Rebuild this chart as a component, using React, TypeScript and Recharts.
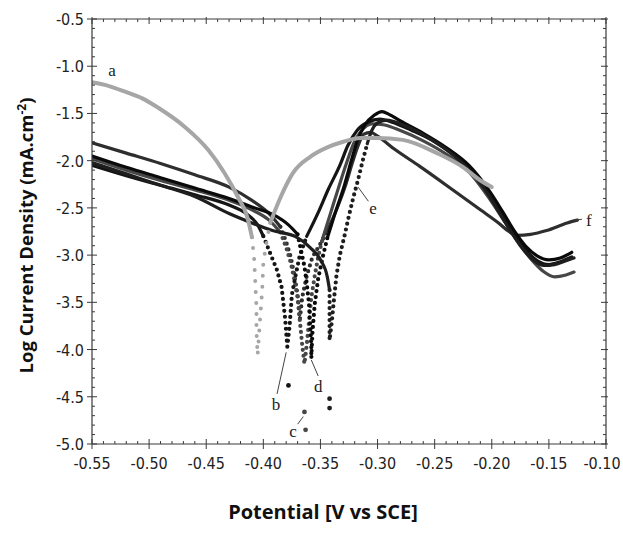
import React from 'react';
import { ComposedChart, Line, Scatter, XAxis, YAxis, ReferenceLine } from 'recharts';

type P = { v: number; L: number };
const pts = (arr: number[][]): P[] => arr.map(([v, L]) => ({ v, L }));

// ---- tick labels ----
const xTickLabels = [-0.55, -0.5, -0.45, -0.4, -0.35, -0.3, -0.25, -0.2, -0.15, -0.1];
const yTickLabels = [-5.0, -4.5, -4.0, -3.5, -3.0, -2.5, -2.0, -1.5, -1.0, -0.5];

// ---- curve a (grey) ----
const aCath = [[-0.55, -1.17], [-0.535, -1.21], [-0.521, -1.27], [-0.506, -1.34], [-0.492, -1.44], [-0.469, -1.64], [-0.448, -1.89], [-0.434, -2.13], [-0.422, -2.39], [-0.414, -2.6], [-0.41, -2.81]];
const aDots = [[-0.41, -2.81], [-0.408, -3.05], [-0.407, -3.3], [-0.406, -3.55], [-0.406, -3.8], [-0.405, -4.06], [-0.403, -3.7], [-0.401, -3.37], [-0.4, -3.08], [-0.397, -2.85], [-0.394, -2.66]];
const aAnod = [[-0.394, -2.66], [-0.385, -2.39], [-0.374, -2.13], [-0.359, -1.96], [-0.344, -1.86], [-0.33, -1.8], [-0.315, -1.76], [-0.3, -1.76], [-0.278, -1.78], [-0.248, -1.92], [-0.225, -2.07], [-0.21, -2.21], [-0.2, -2.28]];

// ---- curve b ----
const bCath = [[-0.55, -2.05], [-0.52, -2.16], [-0.49, -2.26], [-0.46, -2.36], [-0.43, -2.47], [-0.415, -2.56], [-0.405, -2.68], [-0.4, -2.8]];
const bDots = [[-0.4, -2.8], [-0.394, -2.98], [-0.388, -3.16], [-0.384, -3.34], [-0.381, -3.66], [-0.379, -3.97], [-0.377, -3.75], [-0.375, -3.42], [-0.372, -3.23], [-0.368, -3.0], [-0.362, -2.8]];
const bIso = [[-0.378, -4.38]];
const bAnod = [[-0.362, -2.8], [-0.352, -2.55], [-0.343, -2.3], [-0.333, -2.05], [-0.326, -1.84], [-0.318, -1.68], [-0.308, -1.59], [-0.298, -1.56], [-0.288, -1.59], [-0.27, -1.68], [-0.25, -1.8], [-0.23, -1.97], [-0.21, -2.22], [-0.195, -2.5], [-0.18, -2.78], [-0.17, -2.95], [-0.16, -3.06], [-0.15, -3.1], [-0.14, -3.07], [-0.13, -3.02]];

// ---- curve c ----
const cCath = [[-0.55, -1.98], [-0.52, -2.1], [-0.49, -2.21], [-0.46, -2.31], [-0.43, -2.42], [-0.41, -2.52], [-0.395, -2.63], [-0.385, -2.76]];
const cDots = [[-0.385, -2.76], [-0.38, -2.92], [-0.376, -3.08], [-0.373, -3.25], [-0.37, -3.45], [-0.368, -3.7], [-0.366, -3.95], [-0.364, -4.15], [-0.362, -3.95], [-0.36, -3.7], [-0.358, -3.45], [-0.355, -3.22], [-0.352, -3.02], [-0.348, -2.82]];
const cIso = [[-0.364, -4.66], [-0.363, -4.85]];
const cAnod = [[-0.348, -2.82], [-0.341, -2.55], [-0.334, -2.28], [-0.327, -2.02], [-0.321, -1.82], [-0.314, -1.68], [-0.305, -1.61], [-0.295, -1.62], [-0.28, -1.68], [-0.26, -1.79], [-0.24, -1.93], [-0.22, -2.12], [-0.205, -2.35], [-0.19, -2.62], [-0.177, -2.86], [-0.165, -3.05], [-0.155, -3.17], [-0.145, -3.23], [-0.135, -3.21], [-0.128, -3.18]];

// ---- curve d ----
const dCath = [[-0.55, -1.95], [-0.52, -2.07], [-0.49, -2.18], [-0.46, -2.29], [-0.43, -2.4], [-0.41, -2.49], [-0.39, -2.58], [-0.378, -2.68], [-0.37, -2.78]];
const dDots = [[-0.37, -2.78], [-0.367, -2.95], [-0.364, -3.12], [-0.362, -3.3], [-0.36, -3.52], [-0.359, -3.75], [-0.358, -3.95], [-0.358, -4.09], [-0.357, -3.82], [-0.355, -3.52], [-0.352, -3.25], [-0.348, -3.02], [-0.344, -2.82]];
const dAnod = [[-0.344, -2.82], [-0.337, -2.55], [-0.329, -2.26], [-0.323, -2.0], [-0.318, -1.8], [-0.311, -1.62], [-0.303, -1.52], [-0.296, -1.48], [-0.29, -1.51], [-0.28, -1.58], [-0.26, -1.71], [-0.24, -1.86], [-0.22, -2.05], [-0.205, -2.27], [-0.19, -2.55], [-0.18, -2.75], [-0.17, -2.91], [-0.16, -3.01], [-0.15, -3.05], [-0.14, -3.03], [-0.13, -2.97]];

// ---- curve e ----
const eCath = [[-0.55, -2.02], [-0.52, -2.14], [-0.49, -2.26], [-0.46, -2.38], [-0.43, -2.56], [-0.41, -2.66], [-0.392, -2.74], [-0.371, -2.81], [-0.359, -2.92], [-0.35, -3.05], [-0.344, -3.23], [-0.342, -3.37]];
const eDots = [[-0.342, -3.37], [-0.342, -3.52], [-0.342, -3.65], [-0.342, -3.78], [-0.342, -3.9], [-0.34, -3.7], [-0.338, -3.45], [-0.336, -3.22], [-0.333, -3.0], [-0.329, -2.8], [-0.325, -2.58], [-0.321, -2.38], [-0.317, -2.2], [-0.313, -2.0], [-0.309, -1.82]];
const eIso = [[-0.342, -4.52], [-0.342, -4.62]];
const eAnod = [[-0.309, -1.82], [-0.305, -1.68], [-0.3, -1.6], [-0.292, -1.57], [-0.278, -1.62], [-0.258, -1.74], [-0.238, -1.9], [-0.218, -2.12], [-0.203, -2.36], [-0.188, -2.66], [-0.175, -2.9], [-0.165, -3.04], [-0.155, -3.11], [-0.145, -3.1], [-0.135, -3.06], [-0.128, -3.03]];

// ---- curve f ----
const fCath = [[-0.55, -1.81], [-0.52, -1.92], [-0.49, -2.03], [-0.46, -2.15], [-0.43, -2.28], [-0.41, -2.42], [-0.395, -2.56], [-0.385, -2.7]];
const fDots = [[-0.385, -2.7], [-0.38, -2.86], [-0.376, -3.02], [-0.373, -3.2], [-0.37, -3.42], [-0.368, -3.68], [-0.366, -3.45], [-0.362, -3.22], [-0.357, -3.02], [-0.35, -2.88], [-0.344, -2.74]];
const fAnod = [[-0.344, -2.74], [-0.336, -2.52], [-0.328, -2.26], [-0.322, -2.02], [-0.317, -1.84], [-0.312, -1.72], [-0.306, -1.7], [-0.3, -1.74], [-0.285, -1.88], [-0.263, -2.06], [-0.234, -2.31], [-0.21, -2.52], [-0.193, -2.67], [-0.185, -2.75], [-0.178, -2.79], [-0.166, -2.78], [-0.152, -2.74], [-0.134, -2.66], [-0.125, -2.63]];

// ---- curve labels and leader lines ----
const curveLabels = [
  { v: -0.5325, L: -1.04, text: 'a' },
  { v: -0.389, L: -4.58, text: 'b' },
  { v: -0.374, L: -4.86, text: 'c' },
  { v: -0.352, L: -4.39, text: 'd' },
  { v: -0.304, L: -2.5, text: 'e' },
  { v: -0.115, L: -2.63, text: 'f' },
];
const leaders = [
  [[-0.388, -4.47], [-0.38, -4.03]],
  [[-0.37, -4.79], [-0.365, -4.71]],
  [[-0.352, -4.28], [-0.358, -4.11]],
  [[-0.308, -2.43], [-0.317, -2.28]],
  [[-0.121, -2.62], [-0.127, -2.63]],
];

// minor ticks derived from the labelled ticks
const xTicks: number[] = [];
for (let i = 0; i < xTickLabels.length; i++) {
  xTicks.push(xTickLabels[i]);
  if (i < xTickLabels.length - 1) for (let k = 1; k < 5; k++) xTicks.push(+(xTickLabels[i] + k * 0.01).toFixed(3));
}
const yTicks: number[] = [];
for (let i = 0; i < yTickLabels.length; i++) {
  yTicks.push(yTickLabels[i]);
  if (i < yTickLabels.length - 1) for (let k = 1; k < 5; k++) yTicks.push(+(yTickLabels[i] + k * 0.1).toFixed(3));
}
const isMajorX = (v: number) => Math.abs(Math.round(v * 100)) % 5 === 0;
const isMajorY = (v: number) => Math.abs(Math.round(v * 10)) % 5 === 0;

const TICK_FONT = "'Liberation Sans Narrow', 'Arial Narrow', 'DejaVu Sans Condensed', sans-serif";
const AX = '#3a3a3a';

const AxisTick = (props: any) => {
  const { x, y, payload, side } = props;
  const v = payload.value as number;
  const horiz = side === 'bottom' || side === 'top';
  const major = horiz ? isMajorX(v) : isMajorY(v);
  const inL = major ? 5 : 3;
  const outL = major ? 5 : 0;
  if (side === 'bottom') {
    const last = Math.abs(v - xTickLabels[xTickLabels.length - 1]) < 1e-6;
    return (
      <g>
        <line x1={x} x2={x} y1={y - inL} y2={y + outL} stroke={AX} strokeWidth={1} />
        {major && (
          <text x={last ? x - 4 : x} y={y + 25} textAnchor="middle" fontSize={16} fontFamily={TICK_FONT} fill="#222">
            {v.toFixed(2)}
          </text>
        )}
      </g>
    );
  }
  if (side === 'top') {
    return <line x1={x} x2={x} y1={y - (major ? 2 : 0)} y2={y + inL} stroke={AX} strokeWidth={1} />;
  }
  if (side === 'left') {
    return (
      <g>
        <line x1={x - outL} x2={x + inL} y1={y} y2={y} stroke={AX} strokeWidth={1} />
        {major && (
          <text x={x - 8} y={y + 6} textAnchor="end" fontSize={16} fontFamily={TICK_FONT} fill="#222">
            {v.toFixed(1)}
          </text>
        )}
      </g>
    );
  }
  return <line x1={x - inL} x2={x + (major ? 2 : 0)} y1={y} y2={y} stroke={AX} strokeWidth={1} />;
};

const LABEL_FONT = "'Open Sans', 'Noto Sans', sans-serif";

const YAxisLabel = (props: any) => {
  const vb = props.viewBox || {};
  const cx = (vb.x ?? 20) + 6;
  const cy = (vb.y ?? 19) + (vb.height ?? 425) / 2 + 4;
  return (
    <text
      x={cx}
      y={cy}
      dy="0.36em"
      transform={`rotate(-90 ${cx} ${cy})`}
      textAnchor="middle"
      fontSize={18.5}
      fontWeight={700}
      fontFamily={LABEL_FONT}
      fill="#111"
    >
      Log Current Density (mA.cm
      <tspan dy={-7} fontSize={12}>-2</tspan>
      <tspan dy={7}>)</tspan>
    </text>
  );
};

const XAxisLabel = (props: any) => {
  const vb = props.viewBox || {};
  const cx = (vb.x ?? 92) + (vb.width ?? 514) / 2 - 26;
  const by = (vb.y ?? 444) + 75;
  return (
    <text x={cx} y={by} textAnchor="middle" fontSize={20} fontWeight={700} fontFamily={LABEL_FONT} fill="#111">
      Potential [V vs SCE]
    </text>
  );
};

const CurveLabel = (props: any) => {
  const { cx, cy, payload } = props;
  return (
    <text x={cx} y={cy} dy="0.35em" textAnchor="middle" fontSize={17} fontFamily="'Liberation Serif', serif" fill="#222">
      {payload.text}
    </text>
  );
};

const Dot = (color: string, r: number) => (props: any) => <circle cx={props.cx} cy={props.cy} r={r} fill={color} />;

const ids = { xAxisId: 'x', yAxisId: 'y' };

const solid = (key: string, data: number[][], color: string, w = 3.2) => (
  <Line key={key} {...ids} data={pts(data)} dataKey="L" type="monotone" stroke={color} strokeWidth={w} dot={false} activeDot={false} isAnimationActive={false} strokeLinecap="round" />
);
const dotted = (key: string, data: number[][], color: string, gap = 6, w = 4.2) => (
  <Line key={key} {...ids} data={pts(data)} dataKey="L" type="linear" stroke={color} strokeWidth={w} strokeDasharray={`0 ${gap}`} strokeLinecap="round" dot={false} activeDot={false} isAnimationActive={false} />
);
const iso = (key: string, data: number[][], color: string) => (
  <Scatter key={key} {...ids} data={pts(data)} dataKey="L" shape={Dot(color, 2.4)} isAnimationActive={false} />
);

const COL = { a: '#a6a6a6', b: '#151515', c: '#474747', d: '#0a0a0a', e: '#1e1e1e', f: '#2e2e2e' };

export default function App() {
  return (
    <div style={{ position: 'absolute', left: 0, top: 0, width: 623, height: 533, background: '#fff' }}>
      <ComposedChart width={623} height={533} margin={{ top: 14, right: 7, bottom: 9, left: 20 }}>
        <XAxis
          xAxisId="x"
          type="number"
          dataKey="v"
          domain={[-0.55, -0.1]}
          allowDataOverflow
          ticks={xTicks}
          interval={0}
          height={80}
          tickSize={0}
          tickMargin={0}
          tickLine={false}
          axisLine={{ stroke: AX, strokeWidth: 1.2 }}
          tick={(p: any) => <AxisTick {...p} side="bottom" />}
          label={<XAxisLabel />}
        />
        <XAxis
          xAxisId="xt"
          orientation="top"
          type="number"
          dataKey="v"
          domain={[-0.55, -0.1]}
          allowDataOverflow
          ticks={xTicks}
          interval={0}
          height={5}
          tickSize={0}
          tickMargin={0}
          tickLine={false}
          axisLine={{ stroke: AX, strokeWidth: 1.2 }}
          tick={(p: any) => <AxisTick {...p} side="top" />}
        />
        <YAxis
          yAxisId="y"
          type="number"
          dataKey="L"
          domain={[-5.0, -0.5]}
          allowDataOverflow
          ticks={yTicks}
          interval={0}
          width={72}
          tickSize={0}
          tickMargin={0}
          tickLine={false}
          axisLine={{ stroke: AX, strokeWidth: 1.2 }}
          tick={(p: any) => <AxisTick {...p} side="left" />}
          label={<YAxisLabel />}
        />
        <YAxis
          yAxisId="yr"
          orientation="right"
          type="number"
          dataKey="L"
          domain={[-5.0, -0.5]}
          allowDataOverflow
          ticks={yTicks}
          interval={0}
          width={10}
          tickSize={0}
          tickMargin={0}
          tickLine={false}
          axisLine={{ stroke: AX, strokeWidth: 1.2 }}
          tick={(p: any) => <AxisTick {...p} side="right" />}
        />

        {solid('fC', fCath, COL.f)}
        {dotted('fD', fDots, COL.f)}
        {solid('fA', fAnod, COL.f)}

        {solid('cC', cCath, COL.c)}
        {dotted('cD', cDots, COL.c)}
        {solid('cA', cAnod, COL.c)}
        {iso('cI', cIso, COL.c)}

        {solid('bC', bCath, COL.b)}
        {dotted('bD', bDots, COL.b)}
        {solid('bA', bAnod, COL.b)}
        {iso('bI', bIso, COL.b)}

        {solid('dC', dCath, COL.d)}
        {dotted('dD', dDots, COL.d)}
        {solid('dA', dAnod, COL.d)}

        {solid('eC', eCath, COL.e)}
        {dotted('eD', eDots, COL.e)}
        {solid('eA', eAnod, COL.e)}
        {iso('eI', eIso, COL.e)}

        {solid('aC', aCath, COL.a, 4)}
        {dotted('aD', aDots, COL.a, 11, 4)}
        {solid('aA', aAnod, COL.a, 4)}

        {leaders.map((s, i) => (
          <ReferenceLine
            key={'ld' + i}
            {...ids}
            segment={[{ x: s[0][0], y: s[0][1] }, { x: s[1][0], y: s[1][1] }]}
            stroke="#444"
            strokeWidth={1}
            ifOverflow="visible"
          />
        ))}
        <Scatter {...ids} data={curveLabels} dataKey="L" shape={CurveLabel} isAnimationActive={false} />
      </ComposedChart>
    </div>
  );
}
